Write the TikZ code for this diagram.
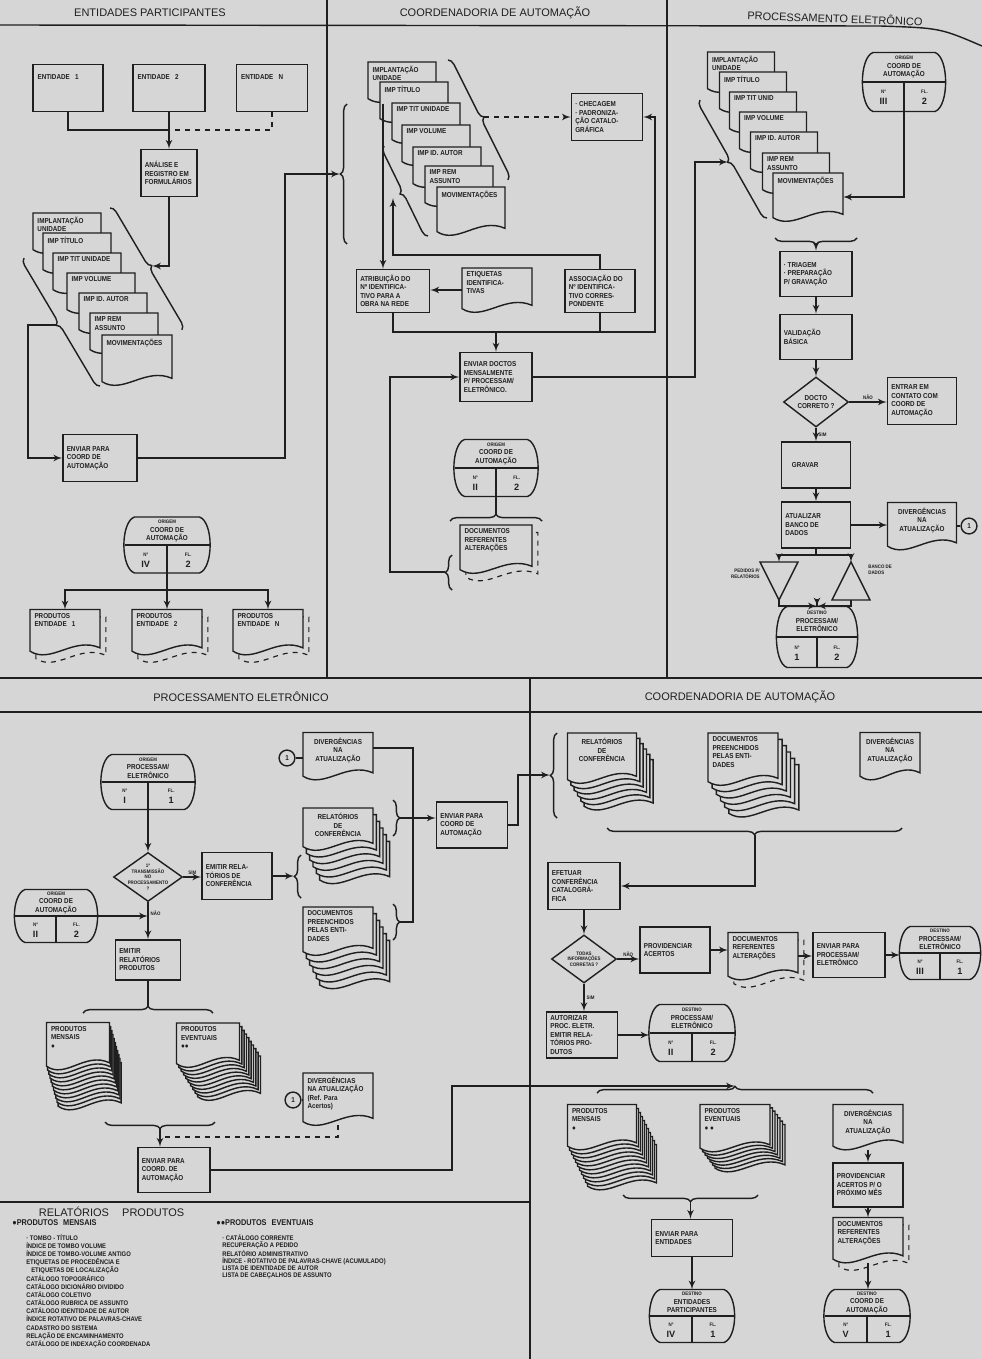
\documentclass[tikz,border=0pt]{standalone}
\usepackage{fontspec}
\setmainfont{Liberation Sans}
\newfontfamily\condensada{Liberation Sans}[FakeStretch=0.88]
\usepackage{tikz}
\usetikzlibrary{arrows,calc,shapes.geometric,decorations.pathreplacing}
\pgfdeclarelayer{fundo}
\pgfdeclarelayer{tras}
\pgfdeclarelayer{frente}
\pgfsetlayers{fundo,tras,frente,main}

\definecolor{papel}{gray}{0.84}
\definecolor{tinta}{gray}{0.12}

\newdimen\escala
\escala=0.6pt
\newcommand{\fcaixa}{\fontsize{4.3}{5.1}\selectfont\condensada\bfseries}
\newcommand{\fmini}{\fontsize{3}{3.4}\selectfont\condensada\bfseries}
\newcommand{\fnum}{\fontsize{5.5}{6}\selectfont\bfseries}
\newcommand{\ftitulo}{\fontsize{6.6}{8}\selectfont}
\newcommand{\flista}{\fontsize{4}{4.9}\selectfont\condensada\bfseries}

\tikzstyle{linha}=[draw, color=tinta, line width=0.85pt]
\tikzstyle{seta}=[linha, -latex']
\tikzstyle{tracejada}=[linha, dashed]
\tikzstyle{processo}=[draw=tinta, line width=0.85pt, fill=papel, inner sep=0pt]
\tikzstyle{decisao}=[processo, diamond]
\tikzstyle{folha}=[draw=tinta, line width=0.85pt, fill=papel]
\tikzstyle{folhatrac}=[draw=tinta, line width=0.7pt, dashed]
\tikzstyle{vazio}=[inner sep=0pt, outer sep=0pt, minimum size=0pt]
\tikzstyle{texto}=[text=tinta, font=\fcaixa, align=left, inner sep=0pt]
\tikzstyle{rotulo}=[text=tinta, font=\fmini, inner sep=1.2pt]
\tikzstyle{titulo}=[text=tinta, font=\ftitulo]
\tikzstyle{chave}=[linha, decorate, decoration={brace, amplitude=4pt}]
\tikzstyle{circulo}=[draw=tinta, line width=0.85pt, fill=papel, circle,
  inner sep=0pt, minimum size=9.5pt, font=\fcaixa, text=tinta]

% caixa de processo: nome, posicao, largura, altura, texto
\newcommand{\caixa}[5]{%
  \node[processo, minimum width=#3*\escala, minimum height=#4*\escala] (#1) at (#2) {};
  \node[texto, anchor=west] at ([xshift=2.5pt]#1.west) {#5};}
% caixa com o texto no alto
\newcommand{\caixatopo}[5]{%
  \node[processo, minimum width=#3*\escala, minimum height=#4*\escala] (#1) at (#2) {};
  \node[texto, anchor=north west] at ([shift={(3pt,-6pt)}]#1.north west) {#5};}
% contorno de documento: nome, estilo, dx, dy
\newcommand{\contorno}[4]{%
  \path[#2] ($(#1.north west)+(#3,#4)$) -- ($(#1.north east)+(#3,#4)$)
    -- ($(#1.south east)+(#3,#4)+(0,4pt)$)
    .. controls ($(#1.south west)!0.62!(#1.south east)+(#3,#4)+(0,11pt)$)
    and ($(#1.south west)!0.3!(#1.south east)+(#3,#4)+(0,-6pt)$)
    .. ($(#1.south west)+(#3,#4)+(0,2pt)$) -- cycle;}
% documento: nome, posicao, largura, altura, texto
\newcommand{\documento}[5]{%
  \node[vazio, minimum width=#3*\escala, minimum height=#4*\escala] (#1) at (#2) {};
  \begin{pgfonlayer}{frente}\contorno{#1}{folha}{0pt}{0pt}\end{pgfonlayer}
  \node[texto, anchor=north west] at ([shift={(2.5pt,-2pt)}]#1.north west) {#5};}
\newcommand{\documentoc}[5]{%
  \node[vazio, minimum width=#3*\escala, minimum height=#4*\escala] (#1) at (#2) {};
  \begin{pgfonlayer}{frente}\contorno{#1}{folha}{0pt}{0pt}\end{pgfonlayer}
  \node[texto, align=center, anchor=north] at ([yshift=-3pt]#1.north) {#5};}
% folhas por tras: nome, quantas, estilo, dx, dy
\newcommand{\copias}[5]{%
  \begin{pgfonlayer}{tras}
    \foreach \pg in {#2,...,1}{\contorno{#1}{#3}{{\pg*#4}}{{-\pg*#5}}}
  \end{pgfonlayer}}
% conector de pagina: nome, posicao, largura, altura, cabecalho, titulo, numero, folha
\newcommand{\conector}[8]{%
  \node[vazio, minimum width=#3*\escala, minimum height=#4*\escala] (#1) at (#2) {};
  \begin{pgfonlayer}{frente}
    \path[folha] ($(#1.north west)+(6pt,0)$) -- ($(#1.north east)+(-6pt,0)$)
      .. controls ($(#1.north east)+(2.5pt,-3pt)$) and ($(#1.south east)+(2.5pt,3pt)$)
      .. ($(#1.south east)+(-6pt,0)$) -- ($(#1.south west)+(6pt,0)$)
      .. controls ($(#1.south west)+(-2.5pt,3pt)$) and ($(#1.north west)+(-2.5pt,-3pt)$)
      .. ($(#1.north west)+(6pt,0)$) -- cycle;
  \end{pgfonlayer}
  \draw[linha] (#1.west) -- (#1.east);
  \draw[linha] (#1.center) -- (#1.south);
  \node[texto, align=center] at ($(#1.north)!0.5!(#1.center)$) {{\fmini #5}\\#6};
  \node[rotulo] at ($(#1.center)!0.5!(#1.south west)+(0,2.8pt)$) {Nº};
  \node[rotulo] at ($(#1.center)!0.5!(#1.south east)+(0,2.8pt)$) {FL.};
  \node[texto, font=\fnum] at ($(#1.center)!0.5!(#1.south west)+(0,-3pt)$) {#7};
  \node[texto, font=\fnum] at ($(#1.center)!0.5!(#1.south east)+(0,-3pt)$) {#8};}

\begin{document}
\begin{tikzpicture}[x=0.6pt, y=-0.6pt]
  \begin{pgfonlayer}{fundo}
    \fill[papel] (0,0) rectangle (982,1359);
  \end{pgfonlayer}
  \useasboundingbox (0,0) rectangle (982,1359);

  % raias e titulos
  \draw[linha] (0,25) -- (880,26) .. controls (940,28) .. (982,46);
  \draw[linha] (327,0) -- (327,678);
  \draw[linha] (667,0) -- (667,678);
  \draw[linha, line width=1.5pt] (0,678) -- (982,678);
  \draw[linha] (0,712) -- (982,712);
  \draw[linha] (530,678) -- (530,1359);
  \draw[linha] (0,1202) -- (530,1202);
  \node[titulo] (tEnt) at (150,13) {ENTIDADES PARTICIPANTES};
  \node[titulo] (tCoord) at (495,13) {COORDENADORIA DE AUTOMAÇÃO};
  \node[titulo, rotate=-2] (tProc) at (835,18) {PROCESSAMENTO ELETRÔNICO};
  \node[titulo] (tProc2) at (241,697) {PROCESSAMENTO ELETRÔNICO};
  \node[titulo] (tCoord2) at (740,697) {COORDENADORIA DE AUTOMAÇÃO};

  % entidades participantes
  \caixatopo{ent1}{68,88}{70}{47}{ENTIDADE~~~1}
  \caixatopo{ent2}{169,88}{72}{47}{ENTIDADE~~~2}
  \caixatopo{entN}{272,88}{71}{47}{ENTIDADE~~~N}
  \caixa{analise}{169,173}{56}{47}{ANÁLISE E\\REGISTRO EM\\FORMULÁRIOS}
  \documento{fA1}{67,233}{68}{40}{IMPLANTAÇÃO\\UNIDADE}
  \documento{fA2}{77,253}{68}{40}{IMP TÍTULO}
  \documento{fA3}{87,273}{68}{40}{IMP TIT UNIDADE}
  \documento{fA4}{101,293}{68}{40}{IMP VOLUME}
  \documento{fA5}{113,313}{68}{40}{IMP ID. AUTOR}
  \documento{fA6}{124,333}{68}{40}{IMP REM\\ASSUNTO}
  \documento{fA7}{137,360}{70}{50}{MOVIMENTAÇÕES}
  \caixa{env1}{100,458}{74}{47}{ENVIAR PARA\\COORD DE\\AUTOMAÇÃO}
  \conector{conA}{167,545}{85}{56}{ORIGEM}{COORD DE\\AUTOMAÇÃO}{IV}{2}
  \documento{PE1}{65,632}{70}{45}{PRODUTOS\\ENTIDADE~~~1}
  \copias{PE1}{1}{folhatrac}{3.5pt}{4.5pt}
  \documento{PE2}{167,632}{70}{45}{PRODUTOS\\ENTIDADE~~~2}
  \copias{PE2}{1}{folhatrac}{3.5pt}{4.5pt}
  \documento{PEN}{268,632}{70}{45}{PRODUTOS\\ENTIDADE~~~N}
  \copias{PEN}{1}{folhatrac}{3.5pt}{4.5pt}

  \coordinate (jEnt) at (169,130);
  \draw[linha] (ent1.south) |- (jEnt);
  \draw[tracejada] (entN.south) |- (jEnt);
  \draw[seta] (ent2.south) -- (analise.north);
  \draw[chave] (110,208) -- (182,330);
  \coordinate (chaveAd) at (152,266);
  \draw[seta] (analise.south) |- (chaveAd);
  \draw[chave] (100,386) -- (24,258);
  \coordinate (chaveAe) at (56,325);
  \coordinate (dobraA) at (28,325);
  \draw[seta] (chaveAe) -- (dobraA) |- (env1.west);
  \draw[chave] (347,244) -- (347,104);
  \coordinate (chaveM) at (340,174);
  \coordinate (cantoB) at (285,174);
  \draw[seta] (env1.east) -| (cantoB) -- (chaveM);
  \coordinate (jPE) at (167,590);
  \draw[linha] (conA.center) -- (jPE);
  \draw[seta] (jPE) -| (PE1.north);
  \draw[seta] (jPE) -- (PE2.north);
  \draw[seta] (jPE) -| (PEN.north);

  % coordenadoria de automacao
  \documento{fM1}{402,82}{68}{40}{IMPLANTAÇÃO\\UNIDADE}
  \documento{fM2}{414,102}{68}{40}{IMP TÍTULO}
  \documento{fM3}{426,123}{68}{40}{IMP TIT UNIDADE}
  \documento{fM4}{436,145}{68}{40}{IMP VOLUME}
  \documento{fM5}{447,167}{68}{40}{IMP ID. AUTOR}
  \documento{fM6}{459,186}{68}{40}{IMP REM\\ASSUNTO}
  \documento{fM7}{471,211}{68}{48}{MOVIMENTAÇÕES}
  \caixa{checagem}{607,117}{71}{47}{· CHECAGEM\\· PADRONIZA-\\ÇÃO CATALO-\\GRÁFICA}
  \caixa{atrib}{393,291}{73}{43}{ATRIBUIÇÃO DO\\Nº IDENTIFICA-\\TIVO PARA A\\OBRA NA REDE}
  \documento{etiq}{497,290}{70}{44}{ETIQUETAS\\IDENTIFICA-\\TIVAS}
  \caixa{assoc}{600,291}{70}{43}{ASSOCIAÇÃO DO\\Nº IDENTIFICA-\\TIVO CORRES-\\PONDENTE}
  \caixa{envD}{496,377}{72}{49}{ENVIAR DOCTOS\\MENSALMENTE\\P/ PROCESSAM/\\ELETRÔNICO.}
  \conector{conB}{496,468}{83}{57}{ORIGEM}{COORD DE\\AUTOMAÇÃO}{II}{2}
  \documento{DRA}{496,549}{72}{48}{DOCUMENTOS\\REFERENTES\\ALTERAÇÕES}
  \copias{DRA}{1}{folhatrac}{3.5pt}{4.5pt}

  \draw[chave] (448,60) -- (508,180);
  \coordinate (chaveMd) at (484,117);
  \draw[seta, dashed] (chaveMd) -- (chaveMd -| checagem.west);
  \draw[chave] (428,236) -- (384,146);
  \coordinate (saiAtr) at (383,104);
  \draw[seta] (saiAtr) -- (saiAtr |- atrib.north);
  \coordinate (cantoAs) at (393,255);
  \coordinate (voltaAs) at (393,198);
  \draw[seta] (assoc.north) |- (cantoAs) -- (voltaAs);
  \draw[seta] (etiq.west) -- (etiq.west -| atrib.east);
  \coordinate (baseM) at (655,332);
  \draw[seta] (atrib.south) |- (baseM) |- (checagem.east);
  \draw[linha] (assoc.south) -- (assoc.south |- baseM);
  \draw[seta] (envD.north |- baseM) -- (envD.north);
  \coordinate (cantoR) at (695,162);
  \coordinate (chaveRe) at (728,162);
  \draw[seta] (envD.east) -| (cantoR) -- (chaveRe);
  \coordinate (chaveDRe) at (445,572);
  \coordinate (cantoL) at (390,572);
  \draw[seta] (chaveDRe) -- (cantoL) |- (envD.west);
  \draw[chave] (452,590) -- (452,555);
  \draw[chave] (450,521) -- (542,521);
  \coordinate (chaveDRt) at (496,514);
  \draw[linha] (conB.center) -- (chaveDRt);

  % processamento eletronico
  \documento{fR1}{741,72}{67}{40}{IMPLANTAÇÃO\\UNIDADE}
  \documento{fR2}{753,92}{67}{40}{IMP TÍTULO}
  \documento{fR3}{763,112}{67}{40}{IMP TIT UNID}
  \documento{fR4}{773,132}{67}{40}{IMP VOLUME}
  \documento{fR5}{784,152}{67}{40}{IMP ID. AUTOR}
  \documento{fR6}{796,173}{67}{40}{IMP REM\\ASSUNTO}
  \documento{fR7}{808,197}{70}{48}{MOVIMENTAÇÕES}
  \conector{conC}{904,82}{82}{59}{ORIGEM}{COORD DE\\AUTOMAÇÃO}{III}{2}
  \caixa{triagem}{816,274}{72}{45}{· TRIAGEM\\· PREPARAÇÃO\\P/ GRAVAÇÃO}
  \caixa{valid}{816,337}{72}{45}{VALIDAÇÃO\\BÁSICA}
  \node[decisao, minimum width=65*\escala, minimum height=50*\escala] (decR) at (816,402) {};
  \node[texto, align=center] at (decR) {DOCTO\\CORRETO ?};
  \caixa{entrar}{922,401}{69}{47}{ENTRAR EM\\CONTATO COM\\COORD DE\\AUTOMAÇÃO}
  \caixa{gravar}{816,465}{69}{46}{\hspace{4pt}GRAVAR}
  \caixa{atual}{816,525}{69}{46}{ATUALIZAR\\BANCO DE\\DADOS}
  \documentoc{divR}{922,526}{69}{47}{DIVERGÊNCIAS\\NA\\ATUALIZAÇÃO}
  \node[circulo] (c1R) at (969,526) {1};
  \path[folha] (760,562) -- (798,562) -- (779,600) -- cycle;
  \path[folha] (851,562) -- (870,600) -- (832,600) -- cycle;
  \coordinate (pedTopo) at (779,562);
  \coordinate (pedBase) at (779,600);
  \coordinate (bdTopo) at (851,562);
  \coordinate (bdBase) at (851,600);
  \node[rotulo, align=right, anchor=east] (lPed) at (762,574) {PEDIDOS P/\\RELATÓRIOS};
  \node[rotulo, align=left, anchor=west] (lBd) at (866,570) {BANCO DE\\DADOS};
  \conector{conD}{817,637}{80}{61}{DESTINO}{PROCESSAM/\\ELETRÔNICO}{1}{2}

  \draw[chave] (767,218) -- (700,100);
  \draw[chave] (857,238) -- (775,238);
  \coordinate (chaveRb) at (816,245);
  \draw[seta] (chaveRb) -- (triagem.north);
  \draw[seta] (conC.center) |- (fR7.east);
  \draw[seta] (triagem.south) -- (valid.north);
  \draw[seta] (valid.south) -- (decR.north);
  \draw[seta] (decR.east) -- node[rotulo, above] {NÃO} (decR.east -| entrar.west);
  \draw[seta] (decR.south) -- node[rotulo, right] {SIM} (gravar.north);
  \draw[seta] (gravar.south) -- (atual.north);
  \draw[seta] (atual.east) -- (atual.east -| divR.west);
  \draw[linha] (divR.east) -- (c1R.west);
  \coordinate (jAt) at (816,555);
  \draw[linha] (atual.south) -- (jAt);
  \draw[seta] (jAt) -| (pedTopo);
  \draw[seta] (jAt) -| (bdTopo);
  \coordinate (jDb) at (817,606);
  \draw[seta] (pedBase) |- (jDb);
  \draw[seta] (bdBase) |- (jDb);
  \draw[seta] (jDb) -- (conD.north);

  % processamento eletronico - emissao
  \conector{conE}{148,782}{93}{55}{ORIGEM}{PROCESSAM/\\ELETRÔNICO}{I}{1}
  \node[decisao, minimum width=69*\escala, minimum height=49*\escala] (decL) at (148,877) {};
  \node[texto, font=\fmini, align=center] at (decL) {1ª\\TRANSMISSÃO\\NO\\PROCESSAMENTO\\?};
  \caixa{emitC}{237,876}{70}{47}{EMITIR RELA-\\TÓRIOS DE\\CONFERÊNCIA}
  \conector{conF}{56,916}{82}{53}{ORIGEM}{COORD DE\\AUTOMAÇÃO}{II}{2}
  \caixa{emitP}{148,960}{65}{40}{EMITIR\\RELATÓRIOS\\PRODUTOS}
  \documento{PM}{78,1046}{63}{47}{PRODUTOS\\MENSAIS\\●}
  \copias{PM}{10}{folha}{0.7pt}{2.4pt}
  \documento{PEv}{208,1045}{63}{44}{PRODUTOS\\EVENTUAIS\\●●}
  \copias{PEv}{9}{folha}{1.4pt}{2.2pt}
  \node[circulo] (c1L) at (293,1100) {1};
  \documento{divL}{338,1099}{70}{52}{DIVERGÊNCIAS\\NA ATUALIZAÇÃO\\(Ref. Para\\Acertos)}
  \caixa{env2}{174,1170}{72}{45}{ENVIAR PARA\\COORD. DE\\AUTOMAÇÃO}
  \node[circulo] (c1T) at (287,758) {1};
  \documentoc{divT}{338,756}{70}{47}{DIVERGÊNCIAS\\NA\\ATUALIZAÇÃO}
  \documentoc{RCL}{338,829}{70}{42}{RELATÓRIOS\\DE\\CONFERÊNCIA}
  \copias{RCL}{5}{folha}{2pt}{4pt}
  \documento{DPL}{338,931}{70}{48}{DOCUMENTOS\\PREENCHIDOS\\PELAS ENTI-\\DADES}
  \copias{DPL}{5}{folha}{2pt}{4pt}
  \caixa{env3}{472,825}{71}{46}{ENVIAR PARA\\COORD DE\\AUTOMAÇÃO}

  \draw[seta] (conE.south) -- (decL.north);
  \draw[seta] (decL.east) -- node[rotulo, above] {SIM} (decL.east -| emitC.west);
  \draw[seta] (decL.south) -- node[rotulo, right, pos=0.3] {NÃO} (decL.south |- emitP.north);
  \draw[seta] (conF.east) -- (conF.east -| decL.south);
  \coordinate (chaveRCe) at (294,876);
  \draw[seta] (emitC.east) -- (chaveRCe);
  \draw[chave] (301,898) -- (301,855);
  \draw[chave] (83,1013) -- (213,1013);
  \coordinate (chavePt) at (148,1006);
  \draw[linha] (emitP.south) -- (chavePt);
  \draw[chave] (215,1122) -- (105,1122);
  \coordinate (chavePb) at (160,1129);
  \draw[seta] (chavePb) -- (chavePb |- env2.north);
  \coordinate (cantoDv) at (338,1137);
  \draw[tracejada] (divL.south) -- (cantoDv) -- (cantoDv -| chavePb);
  \draw[linha] (c1L.east) -- (c1L.east -| divL.west);
  \coordinate (cantoE2) at (452,1086);
  \coordinate (chaveCt) at (735,1086);
  \draw[seta] (env2.east) -| (cantoE2) -- (chaveCt);
  \draw[linha] (c1T.east) -- (c1T.east -| divT.west);
  \coordinate (topoCol) at (413,748);
  \coordinate (baseCol) at (413,922);
  \coordinate (chaveDPd) at (399,922);
  \coordinate (chaveRCd) at (399,818);
  \draw[linha] (divT.east |- topoCol) -- (topoCol) -- (baseCol) -- (chaveDPd);
  \draw[seta] (chaveRCd) -- (chaveRCd -| env3.west);
  \draw[chave] (393,800) -- (393,836);
  \draw[chave] (393,904) -- (393,940);
  \coordinate (cantoE3) at (518,775);
  \coordinate (chaveRCCe) at (550,775);
  \draw[seta] (env3.east) -| (cantoE3) -- (chaveRCCe);

  % coordenadoria de automacao - conferencia
  \draw[chave] (557,818) -- (557,733);
  \documentoc{RCR}{602,758}{69}{50}{RELATÓRIOS\\DE\\CONFERÊNCIA}
  \copias{RCR}{5}{folha}{2pt}{3.2pt}
  \documento{DPR}{743,759}{70}{52}{DOCUMENTOS\\PREENCHIDOS\\PELAS ENTI-\\DADES}
  \copias{DPR}{5}{folha}{2.5pt}{3.8pt}
  \documentoc{divC}{890,756}{60}{47}{DIVERGÊNCIAS\\NA\\ATUALIZAÇÃO}
  \caixa{efet}{584,886}{72}{47}{EFETUAR\\CONFERÊNCIA\\CATALOGRÁ-\\FICA}
  \node[decisao, minimum width=65*\escala, minimum height=48*\escala] (decC) at (584,959) {};
  \node[texto, font=\fmini, align=center] at (decC) {TODAS\\INFORMAÇÕES\\CORRETAS ?};
  \caixa{prov}{675,950}{70}{46}{PROVIDENCIAR\\ACERTOS}
  \documento{DRC}{763,956}{70}{47}{DOCUMENTOS\\REFERENTES\\ALTERAÇÕES}
  \copias{DRC}{1}{folhatrac}{3.5pt}{4.5pt}
  \caixa{envP}{849,955}{72}{45}{ENVIAR PARA\\PROCESSAM/\\ELETRÔNICO}
  \conector{conG}{940,953}{80}{53}{DESTINO}{PROCESSAM/\\ELETRÔNICO}{III}{1}
  \caixa{autor}{582,1035}{71}{46}{AUTORIZAR\\PROC. ELETR.\\EMITIR RELA-\\TÓRIOS PRO-\\DUTOS}
  \conector{conH}{692,1033}{85}{57}{DESTINO}{PROCESSAM/\\ELETRÔNICO}{II}{2}
  \documento{PMC}{602,1127}{69}{45}{PRODUTOS\\MENSAIS\\●}
  \copias{PMC}{10}{folha}{1.2pt}{2.4pt}
  \documento{PEC}{735,1128}{70}{47}{PRODUTOS\\EVENTUAIS\\● ●}
  \copias{PEC}{6}{folha}{1.5pt}{2pt}
  \documentoc{divC2}{868,1127}{70}{45}{DIVERGÊNCIAS\\NA\\ATUALIZAÇÃO}
  \caixa{prov2}{868,1185}{70}{44}{PROVIDENCIAR\\ACERTOS P/ O\\PRÓXIMO MÊS}
  \documento{DRC2}{868,1240}{70}{45}{DOCUMENTOS\\REFERENTES\\ALTERAÇÕES}
  \copias{DRC2}{1}{folhatrac}{3.5pt}{4.5pt}
  \caixa{envE}{692,1238}{81}{37}{ENVIAR PARA\\ENTIDADES}
  \conector{conJ}{692,1316}{84}{53}{DESTINO}{ENTIDADES\\PARTICIPANTES}{IV}{1}
  \conector{conI}{867,1316}{85}{53}{DESTINO}{COORD DE\\AUTOMAÇÃO}{V}{1}

  \draw[chave] (902,828) -- (607,828);
  \coordinate (chaveCb) at (755,835);
  \draw[seta] (chaveCb) |- (efet.east);
  \draw[seta] (efet.south) -- (decC.north);
  \draw[seta] (decC.east) -- node[rotulo, above] {NÃO} (decC.east -| prov.west);
  \draw[seta] (prov.east) -- (prov.east -| DRC.west);
  \draw[seta] (DRC.east) -- (DRC.east -| envP.west);
  \draw[seta] (envP.east) -- (envP.east -| conG.west);
  \draw[seta] (decC.south) -- node[rotulo, right] {SIM} (decC.south |- autor.north);
  \draw[seta] (autor.east) -- (autor.east -| conH.west);
  \draw[chave] (597,1093) -- (873,1093);
  \draw[chave] (758,1195) -- (623,1195);
  \coordinate (chaveEb) at (690.5,1202);
  \draw[seta] (chaveEb) -- (chaveEb |- envE.north);
  \draw[seta] (envE.south) -- (conJ.north);
  \draw[seta] (divC2.south) -- (prov2.north);
  \draw[seta] (prov2.south) -- (DRC2.north);
  \draw[seta] (DRC2.south) -- (DRC2.south |- conI.north);

  % legenda
  \node[titulo, anchor=west] (legTit) at (33,1212) {RELATÓRIOS\hspace{1.2em}PRODUTOS};
  \node[texto, font=\fontsize{5}{6}\selectfont\condensada\bfseries, anchor=west] (legM) at (12,1223)
    {●PRODUTOS\hspace{0.6em}MENSAIS};
  \node[texto, font=\flista, anchor=north west] (listaM) at (26,1234)
    {· TOMBO - TÍTULO\\ÍNDICE DE TOMBO VOLUME\\ÍNDICE DE TOMBO-VOLUME ANTIGO\\
     ETIQUETAS DE PROCEDÊNCIA E\\\hspace{3pt}ETIQUETAS DE LOCALIZAÇÃO\\
     CATÁLOGO TOPOGRÁFICO\\CATÁLOGO DICIONÁRIO DIVIDIDO\\CATÁLOGO COLETIVO\\
     CATÁLOGO RUBRICA DE ASSUNTO\\CATÁLOGO IDENTIDADE DE AUTOR\\
     ÍNDICE ROTATIVO DE PALAVRAS-CHAVE\\CADASTRO DO SISTEMA\\
     RELAÇÃO DE ENCAMINHAMENTO\\CATÁLOGO DE INDEXAÇÃO COORDENADA};
  \node[texto, font=\fontsize{5}{6}\selectfont\condensada\bfseries, anchor=west] (legE) at (216,1223)
    {●●PRODUTOS\hspace{0.6em}EVENTUAIS};
  \node[texto, font=\fontsize{4}{4.3}\selectfont\condensada\bfseries, anchor=north west] (listaE) at (222,1234)
    {· CATÁLOGO CORRENTE\\RECUPERAÇÃO A PEDIDO\\RELATÓRIO ADMINISTRATIVO\\
     ÍNDICE - ROTATIVO DE PALAVRAS-CHAVE (ACUMULADO)\\
     LISTA DE IDENTIDADE DE AUTOR\\LISTA DE CABEÇALHOS DE ASSUNTO};
\end{tikzpicture}
\end{document}
